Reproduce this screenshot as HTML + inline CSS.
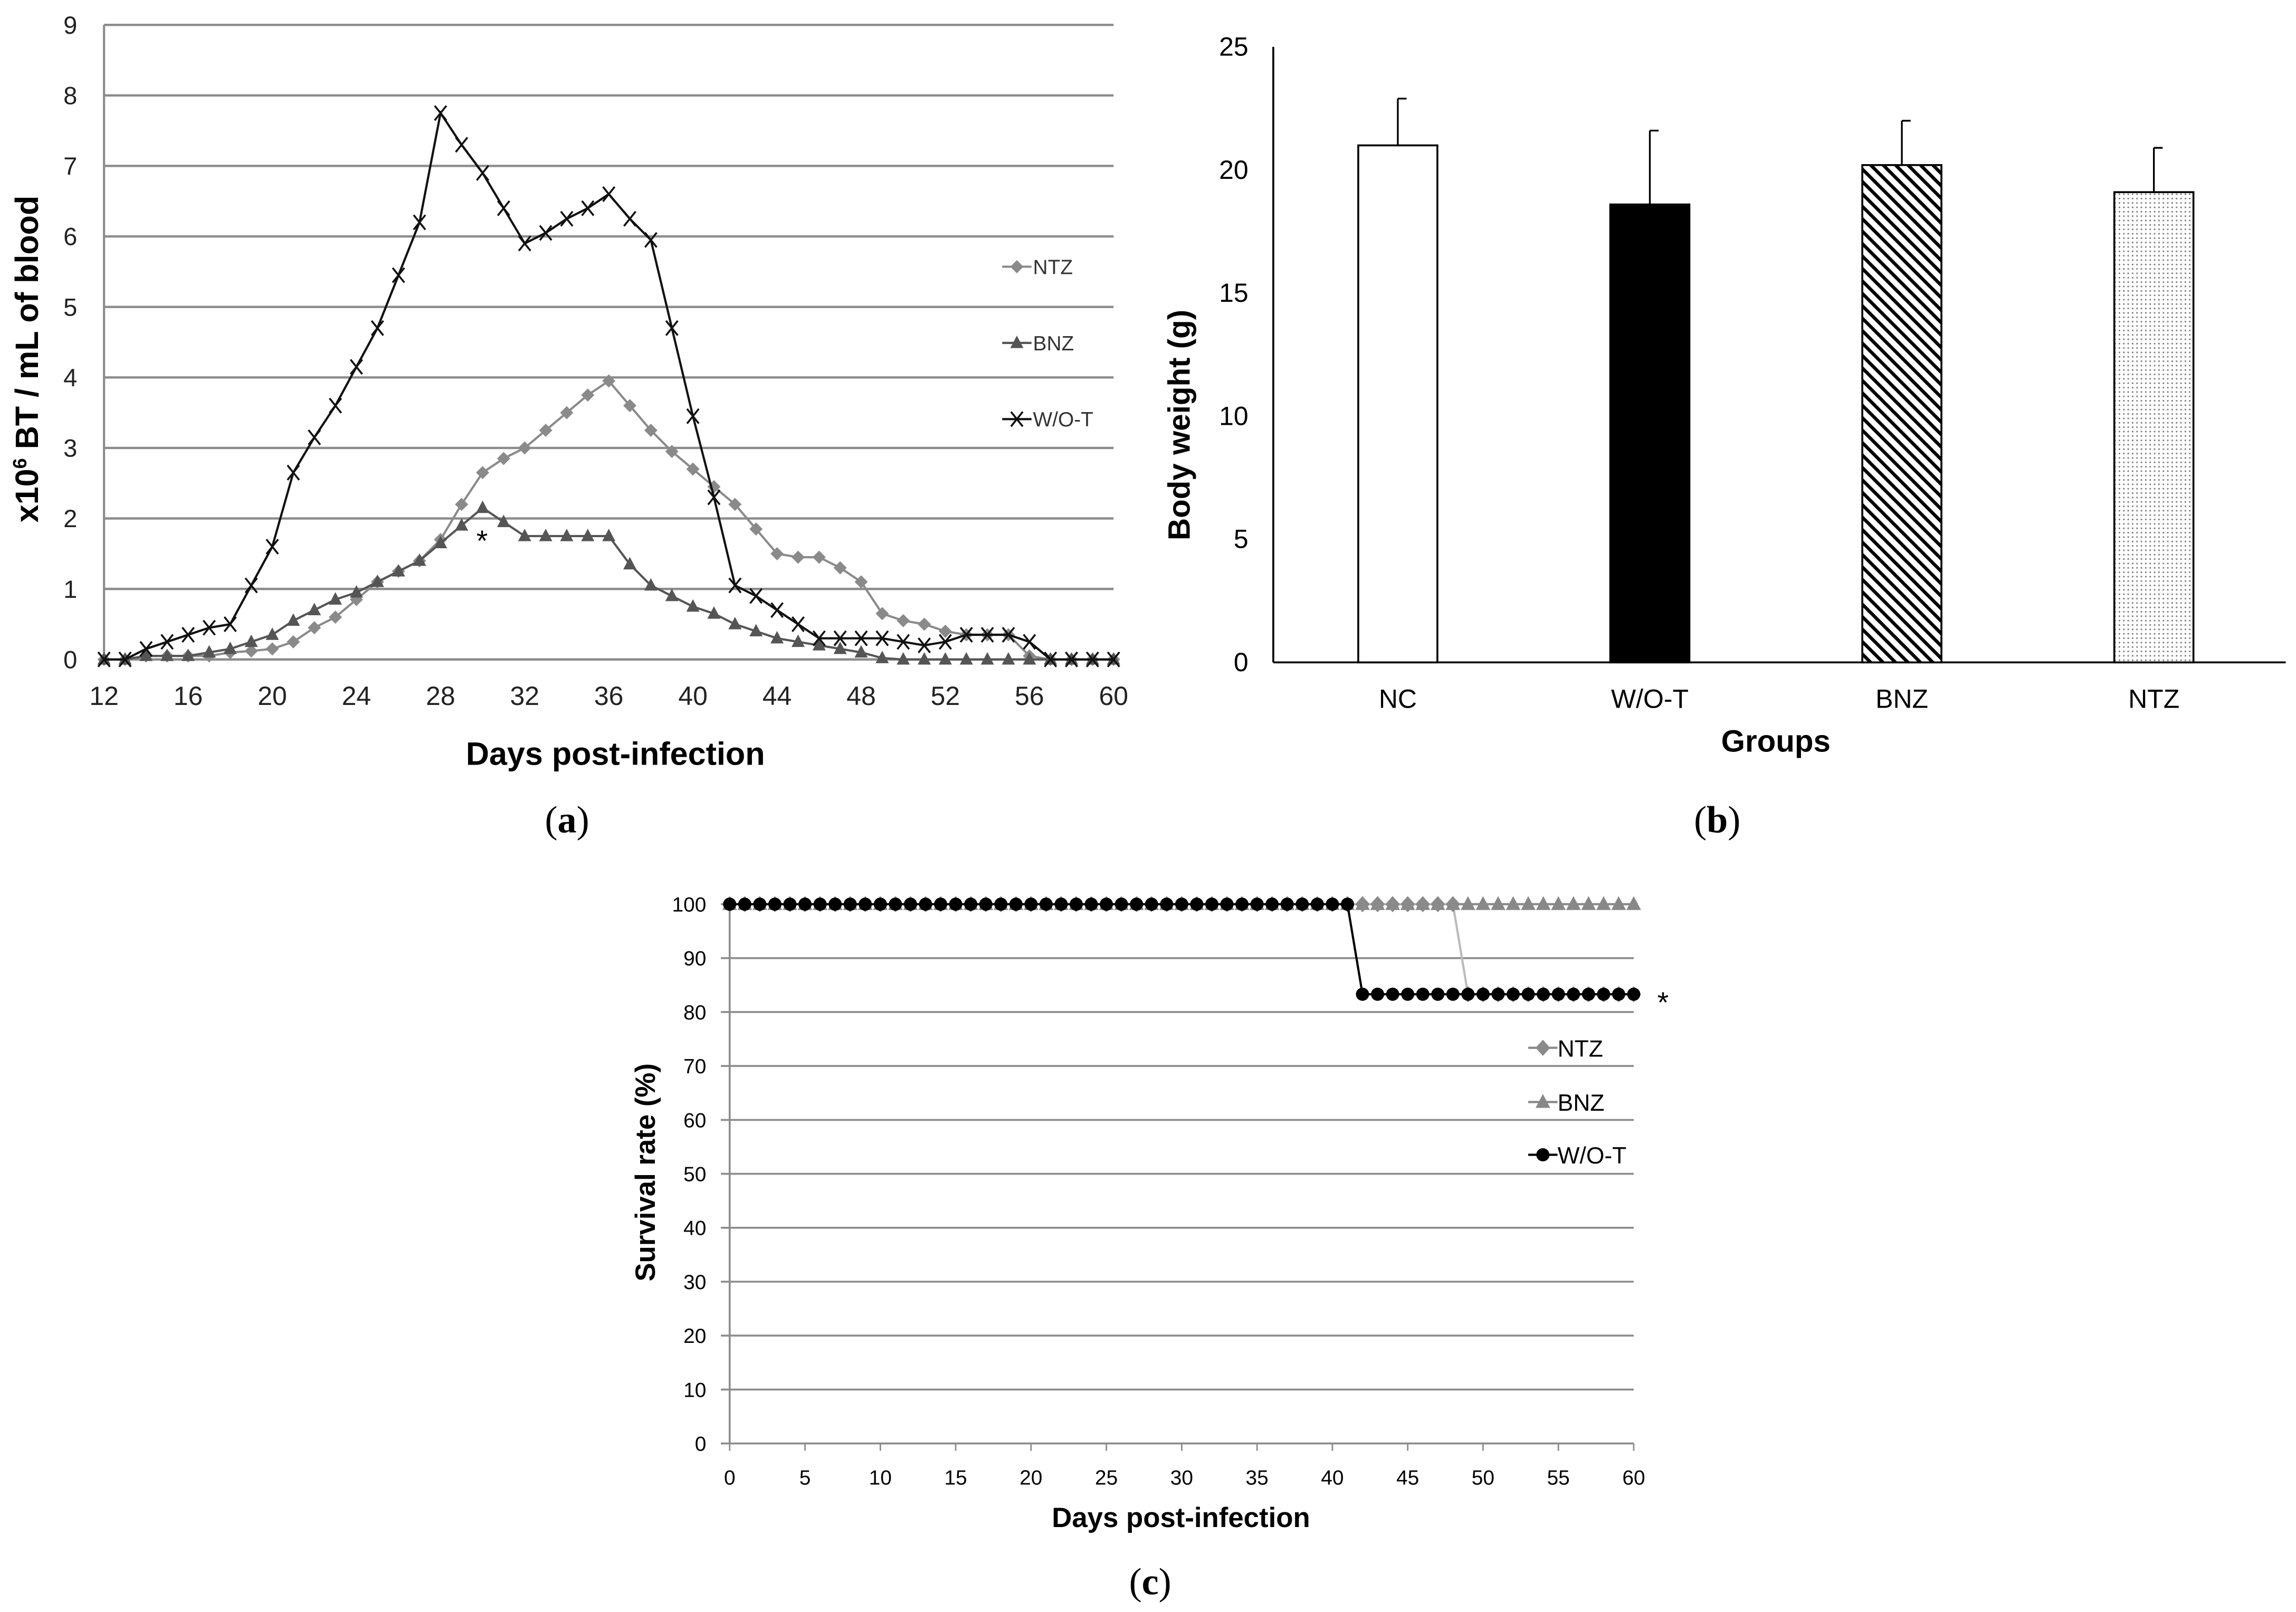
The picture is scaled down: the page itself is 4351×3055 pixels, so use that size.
<!DOCTYPE html>
<html><head><meta charset="utf-8"><style>
html,body{margin:0;padding:0;background:#fff}
svg{display:block}
text{font-family:"Liberation Sans",sans-serif}
</style></head><body>
<svg id="fig" width="4351" height="3055" viewBox="0 0 1567 1100" preserveAspectRatio="none" xmlns="http://www.w3.org/2000/svg">
<rect width="1567" height="1100" fill="#fff"/>
<g id="ga"></g>
<g id="gb"></g>
<g id="gc"></g>
<text x="387" y="568" font-size="26" text-anchor="middle" style="font-family:'Liberation Serif',serif">(<tspan font-weight="bold">a</tspan>)</text>
<text x="1172" y="568" font-size="26" text-anchor="middle" style="font-family:'Liberation Serif',serif">(<tspan font-weight="bold">b</tspan>)</text>
<text x="785" y="1088" font-size="26" text-anchor="middle" style="font-family:'Liberation Serif',serif">(<tspan font-weight="bold">c</tspan>)</text>
</svg>
<script>
// ---- Chart A data ----
const daysA = [12,13,14,15,16,17,18,19,20,21,22,23,24,25,26,27,28,29,30,31,32,33,34,35,36,37,38,39,40,41,42,43,44,45,46,47,48,49,50,51,52,53,54,55,56,57,58,59,60];
const wotA = [0,0,0.15,0.25,0.35,0.45,0.5,1.05,1.6,2.65,3.15,3.6,4.15,4.7,5.45,6.2,7.75,7.3,6.9,6.4,5.9,6.05,6.25,6.4,6.6,6.25,5.95,4.7,3.45,2.3,1.05,0.9,0.7,0.5,0.3,0.3,0.3,0.3,0.25,0.2,0.25,0.35,0.35,0.35,0.25,0,0,0,0];
const ntzA = [0,0,0.05,0.05,0.05,0.05,0.1,0.12,0.15,0.25,0.45,0.6,0.85,1.1,1.25,1.4,1.7,2.2,2.65,2.85,3.0,3.25,3.5,3.75,3.95,3.6,3.25,2.95,2.7,2.45,2.2,1.85,1.5,1.45,1.45,1.3,1.1,0.65,0.55,0.5,0.4,0.35,0.35,0.35,0.05,0,0,0,0];
const bnzA = [0,0,0.05,0.05,0.05,0.1,0.15,0.25,0.35,0.55,0.7,0.85,0.95,1.1,1.25,1.4,1.65,1.9,2.15,1.95,1.75,1.75,1.75,1.75,1.75,1.35,1.05,0.9,0.75,0.65,0.5,0.4,0.3,0.25,0.2,0.15,0.1,0.02,0,0,0,0,0,0,0,0,0,0,0];
const yTicksA = [0,1,2,3,4,5,6,7,8,9];
const xTicksA = [12,16,20,24,28,32,36,40,44,48,52,56,60];
// ---- Chart B data ----
const groupsB = ["NC","W/O-T","BNZ","NTZ"];
const weightB = [21.0,18.6,20.2,19.1];
const errB = [1.9,3.0,1.8,1.8];
const yTicksB = [0,5,10,15,20,25];
// ---- Chart C data ----
const daysC = Array.from({length:61},(_, i)=>i);
const ntzDropDay = 49, wotDropDay = 42, survLow = 83.3;
const yTicksC = [0,10,20,30,40,50,60,70,80,90,100];
const xTicksC = [0,5,10,15,20,25,30,35,40,45,50,55,60];

const NS="http://www.w3.org/2000/svg";
function mk(parent, tag, attrs, txt){const e=document.createElementNS(NS,tag);for(const k in attrs)e.setAttribute(k,attrs[k]);if(txt!==undefined)e.textContent=txt;parent.appendChild(e);return e;}

// ===== Chart A =====
(function(){
const g=document.getElementById('ga');
const xA=d=>71+(d-12)*(760-71)/48, yA=v=>450-v*(450-17)/9;
yTicksA.forEach(t=>{
 const l=mk(g,'line',{x1:71,x2:760,y1:yA(t),y2:yA(t),stroke:'#8c8c8c','stroke-width':1.6});
 
 
 const tx=mk(g,'text',{x:48,y:yA(t)+6,'font-size':17,'text-anchor':'middle',fill:'#222'},t);
 
 
});
mk(g,'line',{x1:71,x2:71,y1:17,y2:450,stroke:'#8c8c8c','stroke-width':1.5});
xTicksA.forEach(t=>{
 const tx=mk(g,'text',{x:xA(t),y:481,'font-size':18,'text-anchor':'middle',fill:'#222'},t);
 
 
});
const xt=mk(g,'text',{x:420,y:522,'font-size':22,'font-weight':'bold','text-anchor':'middle'},'Days post-infection');


const yt=mk(g,'text',{transform:'translate(26,245) rotate(-90)','font-size':22,'font-weight':'bold','text-anchor':'middle'});


mk(yt,'tspan',{},'x10');mk(yt,'tspan',{'font-size':13,dy:-8},'6');mk(yt,'tspan',{dy:8},' BT / mL of blood');
function marker(p,kind,x,y,col){
 if(kind==='d') return mk(p,'polygon',{points:`${x},${y-4.5} ${x+4.5},${y} ${x},${y+4.5} ${x-4.5},${y}`,fill:col});
 if(kind==='t') return mk(p,'polygon',{points:`${x},${y-5} ${x+4.5},${y+3.5} ${x-4.5},${y+3.5}`,fill:col});
 return mk(p,'path',{d:`M${x-4} ${y-5}L${x+4} ${y+5}M${x+4} ${y-5}L${x-4} ${y+5}`,stroke:col,'stroke-width':1.3});
}
const series=[['ntz',ntzA,'#8a8a8a','d'],['bnz',bnzA,'#555','t'],['wot',wotA,'#111','x']];
series.forEach(([n,arr,col,k])=>{
 const s=mk(g,'g',{});
 
 
 mk(s,'polyline',{points:arr.map((v,i)=>xA(daysA[i])+','+yA(v)).join(' '),fill:'none',stroke:col,'stroke-width':1.5});
 arr.forEach((v,i)=>{const m=marker(s,k,xA(daysA[i]),yA(v),col);
  
  });
});
const st=mk(g,'text',{x:329,y:376,'font-size':20,'text-anchor':'middle'},'*');


[['NTZ','#8a8a8a','d',182],['BNZ','#555','t',234],['W/O-T','#111','x',286]].forEach(([lab,col,k,y])=>{
 const le=mk(g,'g',{});
 
 
 mk(le,'line',{x1:684,x2:704,y1:y,y2:y,stroke:col,'stroke-width':1.5});
 marker(le,k,694,y,col);
 mk(le,'text',{x:705,y:y+5,'font-size':14,fill:'#333'},lab);
});
})();

// ===== Chart B =====
(function(){
const g=document.getElementById('gb');
const yB=v=>452-v*(452-32)/25, xB=i=>954+i*172;
const defs=mk(g,'defs',{});
const p1=mk(defs,'pattern',{id:'hatch',width:6,height:6,patternUnits:'userSpaceOnUse',patternTransform:'rotate(-45)'});
mk(p1,'rect',{width:6,height:6,fill:'#fff'});mk(p1,'rect',{width:2.3,height:6,fill:'#000'});
const p2=mk(defs,'pattern',{id:'dots',width:3,height:3,patternUnits:'userSpaceOnUse'});
mk(p2,'rect',{width:3,height:3,fill:'#fff'});mk(p2,'rect',{width:1,height:1,fill:'#777'});
const fills=['#fff','#000','url(#hatch)','url(#dots)'];
yTicksB.forEach(t=>{
 const tx=mk(g,'text',{x:852,y:yB(t)+6,'font-size':18,'text-anchor':'end'},t);
 
 
});
mk(g,'line',{x1:869,x2:869,y1:32,y2:452,stroke:'#000','stroke-width':1.3});
mk(g,'line',{x1:869,x2:1560,y1:452,y2:452,stroke:'#000','stroke-width':1.3});
weightB.forEach((v,i)=>{
 const cx=xB(i);
 const e=mk(g,'line',{x1:cx,x2:cx,y1:yB(v),y2:yB(v+errB[i]),stroke:'#000','stroke-width':1.2});
 
 
 mk(g,'line',{x1:cx,x2:cx+6,y1:yB(v+errB[i]),y2:yB(v+errB[i]),stroke:'#000','stroke-width':1.2});
 const r=mk(g,'rect',{x:cx-27,y:yB(v),width:54,height:yB(0)-yB(v),fill:fills[i],stroke:'#000','stroke-width':1.3});
 
 
 const tx=mk(g,'text',{x:cx,y:483,'font-size':18,'text-anchor':'middle'},groupsB[i]);
 
 
});
const xt=mk(g,'text',{x:1212,y:513,'font-size':21,'font-weight':'bold','text-anchor':'middle'},'Groups');


const yt=mk(g,'text',{transform:'translate(812,290) rotate(-90)','font-size':21,'font-weight':'bold','text-anchor':'middle'},'Body weight (g)');


})();

// ===== Chart C =====
(function(){
const g=document.getElementById('gc');
const xC=d=>498+d*(1115-498)/60, yC=v=>985-v*(985-617)/100;
yTicksC.forEach(t=>{
 const l=mk(g,'line',{x1:492,x2:1115,y1:yC(t),y2:yC(t),stroke:'#8c8c8c','stroke-width':1.3});
 
 
 const tx=mk(g,'text',{x:482,y:yC(t)+5,'font-size':14,'text-anchor':'end'},t);
 
 
});
mk(g,'line',{x1:498,x2:498,y1:617,y2:985,stroke:'#8c8c8c','stroke-width':1.3});
xTicksC.forEach(t=>{
 mk(g,'line',{x1:xC(t),x2:xC(t),y1:985,y2:990,stroke:'#8c8c8c'});
 const tx=mk(g,'text',{x:xC(t),y:1013,'font-size':14,'text-anchor':'middle'},t);
 
 
});
const xt=mk(g,'text',{x:806,y:1042,'font-size':19,'font-weight':'bold','text-anchor':'middle'},'Days post-infection');


const yt=mk(g,'text',{transform:'translate(447,800) rotate(-90)','font-size':19,'font-weight':'bold','text-anchor':'middle'},'Survival rate (%)');


const bnz=daysC.map(()=>100);
const ntz=daysC.map(d=>d>=ntzDropDay?survLow:100);
const wot=daysC.map(d=>d>=wotDropDay?survLow:100);
function mark(p,k,x,y,col){
 if(k==='d') return mk(p,'polygon',{points:`${x},${y-5.5} ${x+5},${y} ${x},${y+5.5} ${x-5},${y}`,fill:col});
 if(k==='t') return mk(p,'polygon',{points:`${x},${y-5.5} ${x+5},${y+4} ${x-5},${y+4}`,fill:col});
 return mk(p,'circle',{cx:x,cy:y,r:4.5,fill:'#000'});
}
[['bnz',bnz,'#888','t','#888'],['ntz',ntz,'#8a8a8a','d','#bbb'],['wot',wot,'#000','o','#000']].forEach(([n,arr,col,k,lc])=>{
 const s=mk(g,'g',{});
 
 
 mk(s,'polyline',{points:arr.map((v,i)=>xC(daysC[i])+','+yC(v)).join(' '),fill:'none',stroke:lc,'stroke-width':1.5});
 arr.forEach((v,i)=>{const m=mark(s,k,xC(daysC[i]),yC(v),col);
  
  });
});
const st=mk(g,'text',{x:1135,y:691,'font-size':20,'text-anchor':'middle'},'*');


[['NTZ','#8a8a8a','d',715,'#8a8a8a'],['BNZ','#888','t',752,'#888'],['W/O-T','#000','o',788,'#000']].forEach(([lab,col,k,y,lc])=>{
 const le=mk(g,'g',{});
 
 
 mk(le,'line',{x1:1043,x2:1063,y1:y,y2:y,stroke:lc,'stroke-width':1.5});
 mark(le,k,1053,y,col);
 mk(le,'text',{x:1063,y:y+6,'font-size':16},lab);
});
})();
</script>
</body></html>
